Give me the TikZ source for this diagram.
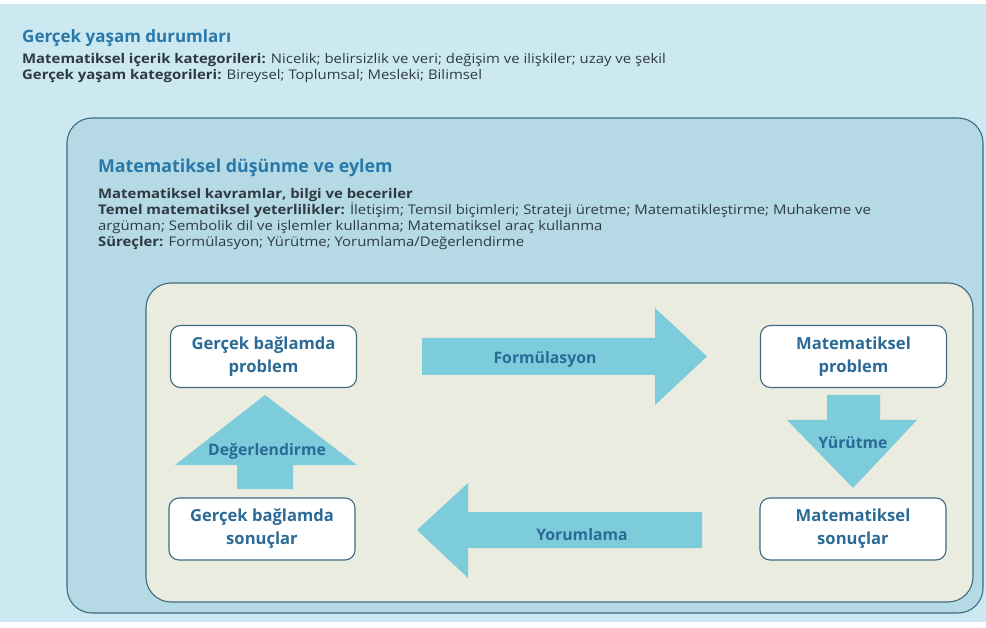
\documentclass[tikz,border=0pt]{standalone}
\usepackage{fontspec}
\setmainfont{Open Sans}[FakeStretch=1.12]
\newfontfamily\headfont{Open Sans}
\definecolor{outerbg}{HTML}{CCE9F1}
\definecolor{midfill}{HTML}{B5DAE5}
\definecolor{innerfill}{HTML}{E9ECDF}
\definecolor{bordercol}{HTML}{3E6B80}
\definecolor{arrowfill}{HTML}{7DCCDC}
\definecolor{titlecol}{HTML}{2878AA}
\definecolor{boxtext}{HTML}{2B6A96}
\definecolor{bodytext}{HTML}{2F3A40}
\begin{document}
\begin{tikzpicture}[x=1pt,y=-1pt,
  titletext/.style={anchor=base west,inner sep=0pt,text=titlecol,font=\headfont\fontsize{17}{20}\selectfont\bfseries},
  bodyline/.style={anchor=base west,inner sep=0pt,text=bodytext,font=\fontsize{13.3}{16}\selectfont},
  procbox/.style={draw=bordercol,line width=1.1pt,fill=white,rounded corners=10pt,
    minimum width=186pt,minimum height=62pt,align=center,text=boxtext,
    font=\headfont\fontsize{16.6}{23}\selectfont\bfseries,inner sep=0pt},
  blockarrow/.style={fill=arrowfill},
  arrowlabel/.style={anchor=base,inner sep=0pt,text=boxtext,font=\headfont\fontsize{15.8}{18}\selectfont\bfseries}]
\useasboundingbox (0,0) rectangle (986,628);
\fill[white] (0,0) rectangle (986,628);
\fill[outerbg] (0,4) rectangle (986,622);
% middle frame
\draw[bordercol,line width=1.1pt,fill=midfill,rounded corners=25pt] (67,118) rectangle (983,613);
% inner frame
\draw[bordercol,line width=1.1pt,fill=innerfill,rounded corners=25pt] (146,283) rectangle (973,602);

% outer texts
\node[titletext] (t1) at (22,43) {Gerçek yaşam durumları};
\node[bodyline] (l1) at (22,64) {\textbf{Matematiksel içerik kategorileri:} Nicelik; belirsizlik ve veri; değişim ve ilişkiler; uzay ve şekil};
\node[bodyline] (l2) at (22,80) {\textbf{Gerçek yaşam kategorileri:} Bireysel; Toplumsal; Mesleki; Bilimsel};

% middle texts
\node[titletext,font=\headfont\fontsize{17.8}{20}\selectfont\bfseries] (t2) at (98,173) {Matematiksel düşünme ve eylem};
\node[bodyline] (m1) at (98,199) {\textbf{Matematiksel kavramlar, bilgi ve beceriler}};
\node[bodyline] (m2) at (98,215) {\textbf{Temel matematiksel yeterlilikler:} İletişim; Temsil biçimleri; Strateji üretme; Matematikleştirme; Muhakeme ve};
\node[bodyline] (m3) at (98,231) {argüman; Sembolik dil ve işlemler kullanma; Matematiksel araç kullanma};
\node[bodyline] (m4) at (98,247) {\textbf{Süreçler:} Formülasyon; Yürütme; Yorumlama/Değerlendirme};

% block arrows
\fill[blockarrow] (422,338) -- (655,338) -- (655,308) -- (707,356.5) -- (655,405) -- (655,375) -- (422,375) -- cycle;
\fill[blockarrow] (827,395) -- (880,395) -- (880,420) -- (917,420) -- (853,488) -- (787,420) -- (827,420) -- cycle;
\fill[blockarrow] (702,512) -- (468,512) -- (468,483) -- (417,530) -- (468,578) -- (468,548) -- (702,548) -- cycle;
\fill[blockarrow] (237,489) -- (237,465) -- (175,465) -- (265,395) -- (357,465) -- (293,465) -- (293,489) -- cycle;

% process boxes
\node[procbox] (gp) at (263.5,356.5) {Gerçek bağlamda\\problem};
\node[procbox] (mp) at (853.5,356.5) {Matematiksel\\problem};
\node[procbox] (ms) at (853,529) {Matematiksel\\sonuçlar};
\node[procbox] (gs) at (262,529) {Gerçek bağlamda\\sonuçlar};

% arrow labels
\node[arrowlabel] (af) at (545,364) {Formülasyon};
\node[arrowlabel] (ay) at (853,448) {Yürütme};
\node[arrowlabel] (ao) at (582,540) {Yorumlama};
\node[arrowlabel] (ad) at (267,456) {Değerlendirme};
\end{tikzpicture}
\end{document}
